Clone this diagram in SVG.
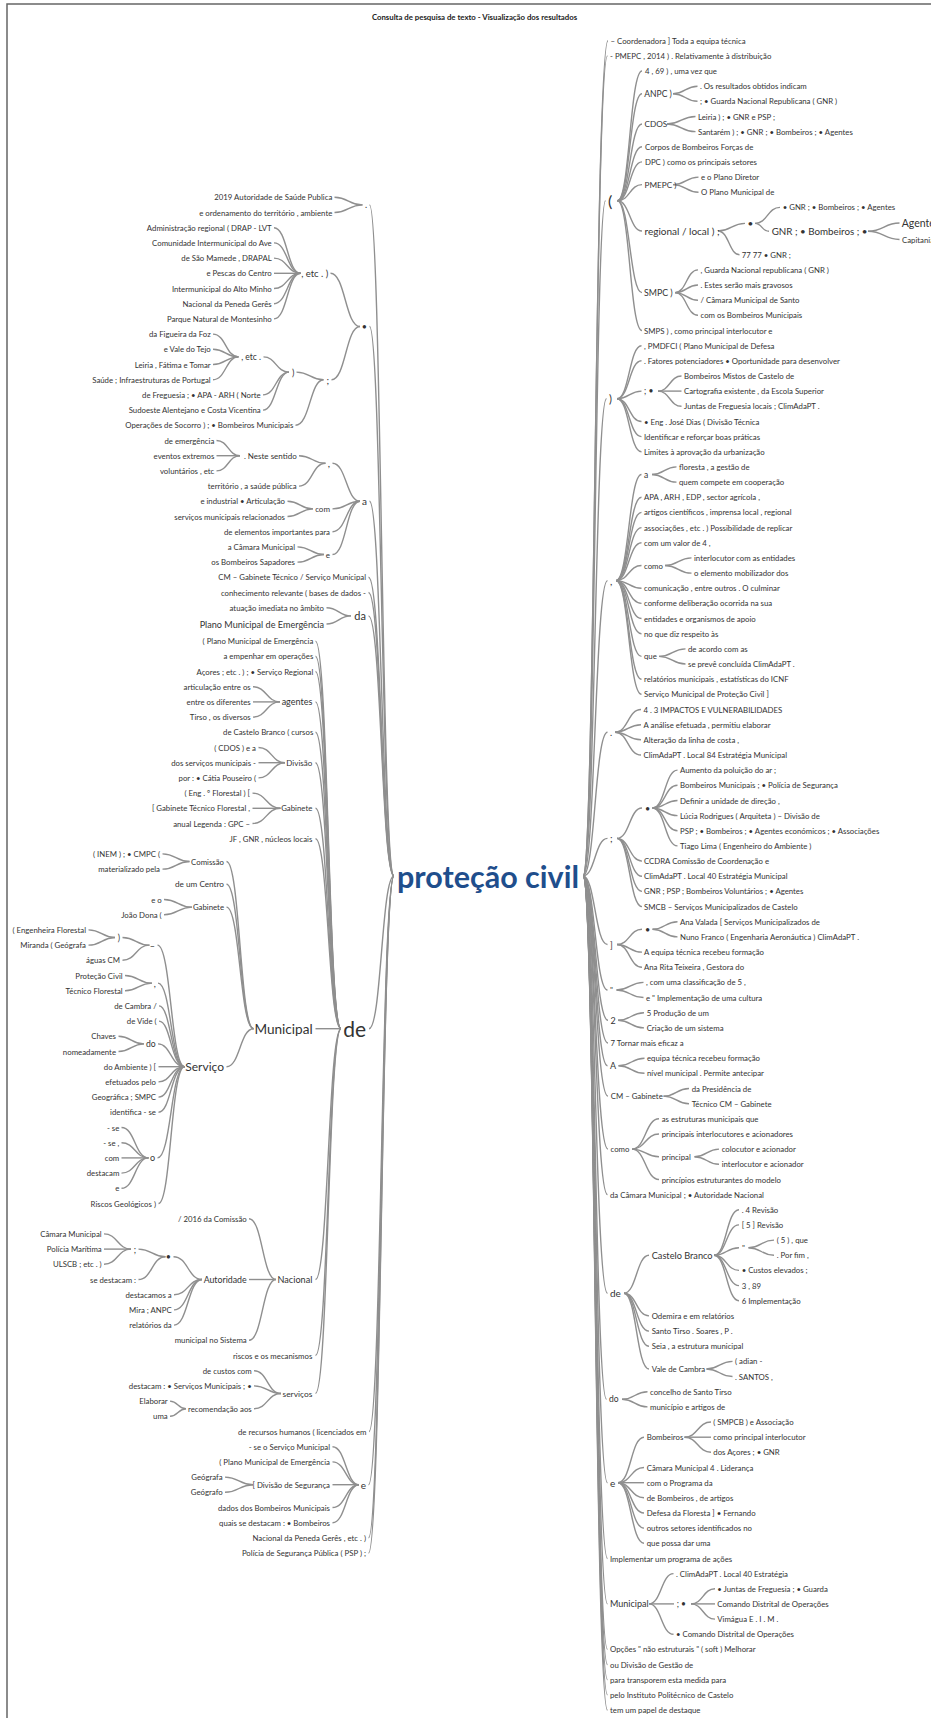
<svg xmlns="http://www.w3.org/2000/svg" width="931" height="1718" viewBox="0 0 931 1718">
<style>
text{font-family:Lato,"Liberation Sans",sans-serif;fill:#333;dominant-baseline:central}
.s{font-size:7.8px}
.e{text-anchor:end}
.title{font-size:7.8px;font-weight:700;text-anchor:middle;fill:#222}
.root{font-size:30.5px;font-weight:700;fill:#1f4e8c;text-anchor:middle}
#connectors path{fill:none;stroke:#8f8f8f;stroke-width:1.4}
</style>
<rect width="931" height="1718" fill="#fff"/>
<path d="M7 1718V4H931" fill="none" stroke="#666" stroke-width="1.5"/>
<text class="title" x="474.5" y="16.7">Consulta de pesquisa de texto - Visualização dos resultados</text>
<g id="connectors">
<path d="M369.5 204.9C381.5 204.9 381.5 876 394 876"/>
<path d="M369.5 326.5C381.5 326.5 381.5 876 394 876"/>
<path d="M369.5 501.3C381.5 501.3 381.5 876 394 876"/>
<path d="M368.5 577.3C381.5 577.3 381.5 876 394 876"/>
<path d="M368.5 592.5C381.5 592.5 381.5 876 394 876"/>
<path d="M368.5 615.9C381.5 615.9 381.5 876 394 876"/>
<path d="M369 1028.7C381.5 1028.7 381.5 876 394 876"/>
<path d="M369 1431.5C381.5 1431.5 381.5 876 394 876"/>
<path d="M368.5 1484.7C381.5 1484.7 381.5 876 394 876"/>
<path d="M368.5 1537.9C381.5 1537.9 381.5 876 394 876"/>
<path d="M368.5 1553.1C381.5 1553.1 381.5 876 394 876"/>
<path d="M583 876C595 876 595 40.7 608 40.7"/>
<path d="M583 876C595 876 595 55.9 607.5 55.9"/>
<path d="M583 876C595 876 595 200.8 605.5 200.8"/>
<path d="M583 876C595 876 595 398.7 606.5 398.7"/>
<path d="M583 876C595 876 595 580.6 607.5 580.6"/>
<path d="M583 876C595 876 595 732.2 607.5 732.2"/>
<path d="M583 876C595 876 595 838.4 607.5 838.4"/>
<path d="M583 876C595 876 595 944.5 607.5 944.5"/>
<path d="M583 876C595 876 595 990 607.5 990"/>
<path d="M583 876C595 876 595 1020.3 608 1020.3"/>
<path d="M583 876C595 876 595 1043 608 1043"/>
<path d="M583 876C595 876 595 1065.8 607.5 1065.8"/>
<path d="M583 876C595 876 595 1096.1 608 1096.1"/>
<path d="M583 876C595 876 595 1149.1 608 1149.1"/>
<path d="M583 876C595 876 595 1194.6 607.5 1194.6"/>
<path d="M583 876C595 876 595 1293.2 607.5 1293.2"/>
<path d="M583 876C595 876 595 1399.3 606.5 1399.3"/>
<path d="M583 876C595 876 595 1482.7 607.5 1482.7"/>
<path d="M583 876C595 876 595 1558.5 607.5 1558.5"/>
<path d="M583 876C595 876 595 1603.9 607.5 1603.9"/>
<path d="M583 876C595 876 595 1649.4 607.5 1649.4"/>
<path d="M583 876C595 876 595 1664.6 607.5 1664.6"/>
<path d="M583 876C595 876 595 1679.7 607.5 1679.7"/>
<path d="M583 876C595 876 595 1694.9 607.5 1694.9"/>
<path d="M583 876C595 876 595 1710.1 607.5 1710.1"/>
<path d="M334.5 197.3C348.5 197.3 348.5 204.9 362.5 204.9"/>
<path d="M334.5 212.5C348.5 212.5 348.5 204.9 362.5 204.9"/>
<path d="M330.5 273.3C345.3 273.3 345.3 326.5 360 326.5"/>
<path d="M331.5 379.7C345.8 379.7 345.8 326.5 360 326.5"/>
<path d="M274 227.7C287.3 227.7 287.3 273.3 300.5 273.3"/>
<path d="M274 242.9C287.3 242.9 287.3 273.3 300.5 273.3"/>
<path d="M274 258.1C287.3 258.1 287.3 273.3 300.5 273.3"/>
<path d="M274 273.3C287.3 273.3 287.3 273.3 300.5 273.3"/>
<path d="M274 288.5C287.3 288.5 287.3 273.3 300.5 273.3"/>
<path d="M274 303.7C287.3 303.7 287.3 273.3 300.5 273.3"/>
<path d="M274 318.9C287.3 318.9 287.3 273.3 300.5 273.3"/>
<path d="M296.5 372.1C310 372.1 310 379.7 323.5 379.7"/>
<path d="M295.5 425.3C310 425.3 310 379.7 323.5 379.7"/>
<path d="M263.5 356.9C276 356.9 276 372.1 289 372.1"/>
<path d="M263 394.9C276 394.9 276 372.1 289 372.1"/>
<path d="M263 410.1C276 410.1 276 372.1 289 372.1"/>
<path d="M213 334.1C225.8 334.1 225.8 356.9 238.5 356.9"/>
<path d="M213 349.3C225.8 349.3 225.8 356.9 238.5 356.9"/>
<path d="M213 364.5C225.8 364.5 225.8 356.9 238.5 356.9"/>
<path d="M213 379.7C225.8 379.7 225.8 356.9 238.5 356.9"/>
<path d="M332.5 463.3C346.3 463.3 346.3 501.3 360 501.3"/>
<path d="M332.5 508.9C346.3 508.9 346.3 501.3 360 501.3"/>
<path d="M332.5 531.7C346.3 531.7 346.3 501.3 360 501.3"/>
<path d="M332.5 554.5C346.3 554.5 346.3 501.3 360 501.3"/>
<path d="M299 455.7C312.3 455.7 312.3 463.3 325.5 463.3"/>
<path d="M299 486.1C312.3 486.1 312.3 463.3 325.5 463.3"/>
<path d="M216.5 440.5C228.3 440.5 228.3 455.7 240 455.7"/>
<path d="M216.5 455.7C228.3 455.7 228.3 455.7 240 455.7"/>
<path d="M216.5 470.9C228.3 470.9 228.3 455.7 240 455.7"/>
<path d="M287.5 501.3C300.3 501.3 300.3 508.9 313 508.9"/>
<path d="M287.5 516.5C300.3 516.5 300.3 508.9 313 508.9"/>
<path d="M297.5 546.9C310.8 546.9 310.8 554.5 324 554.5"/>
<path d="M297.5 562.1C310.8 562.1 310.8 554.5 324 554.5"/>
<path d="M326.5 607.7C338.8 607.7 338.8 615.9 351 615.9"/>
<path d="M326.5 624C338.8 624 338.8 615.9 351 615.9"/>
<path d="M315.5 641.1C328.3 641.1 328.3 1028.7 341 1028.7"/>
<path d="M315.5 656.3C328.3 656.3 328.3 1028.7 341 1028.7"/>
<path d="M315.5 671.5C328.3 671.5 328.3 1028.7 341 1028.7"/>
<path d="M315.5 701.9C328.3 701.9 328.3 1028.7 341 1028.7"/>
<path d="M315.5 732.3C328.3 732.3 328.3 1028.7 341 1028.7"/>
<path d="M315.5 762.7C328.3 762.7 328.3 1028.7 341 1028.7"/>
<path d="M315.5 808.3C328.3 808.3 328.3 1028.7 341 1028.7"/>
<path d="M315.5 838.7C328.3 838.7 328.3 1028.7 341 1028.7"/>
<path d="M315.5 1028.7C328.3 1028.7 328.3 1028.7 341 1028.7"/>
<path d="M315.5 1279.5C328.3 1279.5 328.3 1028.7 341 1028.7"/>
<path d="M315.5 1355.5C328.3 1355.5 328.3 1028.7 341 1028.7"/>
<path d="M315.5 1393.5C328.3 1393.5 328.3 1028.7 341 1028.7"/>
<path d="M253 686.7C266.5 686.7 266.5 701.9 280 701.9"/>
<path d="M253 701.9C266.5 701.9 266.5 701.9 280 701.9"/>
<path d="M253 717.1C266.5 717.1 266.5 701.9 280 701.9"/>
<path d="M258.5 747.5C271.8 747.5 271.8 762.7 285 762.7"/>
<path d="M258.5 762.7C271.8 762.7 271.8 762.7 285 762.7"/>
<path d="M258.5 777.9C271.8 777.9 271.8 762.7 285 762.7"/>
<path d="M252.5 793.1C266.5 793.1 266.5 808.3 280.5 808.3"/>
<path d="M252.5 808.3C266.5 808.3 266.5 808.3 280.5 808.3"/>
<path d="M252.5 823.5C266.5 823.5 266.5 808.3 280.5 808.3"/>
<path d="M226.5 861.5C240 861.5 240 1028.7 253.5 1028.7"/>
<path d="M226.5 884.3C240 884.3 240 1028.7 253.5 1028.7"/>
<path d="M226.5 907.1C240 907.1 240 1028.7 253.5 1028.7"/>
<path d="M226.5 1066.7C240 1066.7 240 1028.7 253.5 1028.7"/>
<path d="M162.5 853.9C176 853.9 176 861.5 189.5 861.5"/>
<path d="M162.5 869.1C176 869.1 176 861.5 189.5 861.5"/>
<path d="M164 899.5C178 899.5 178 907.1 192 907.1"/>
<path d="M164 914.7C178 914.7 178 907.1 192 907.1"/>
<path d="M157.5 945.1C171 945.1 171 1066.7 184.5 1066.7"/>
<path d="M158 983.1C171 983.1 171 1066.7 184.5 1066.7"/>
<path d="M159 1005.9C171 1005.9 171 1066.7 184.5 1066.7"/>
<path d="M159 1021.1C171 1021.1 171 1066.7 184.5 1066.7"/>
<path d="M158 1043.9C171 1043.9 171 1066.7 184.5 1066.7"/>
<path d="M158.5 1066.7C171 1066.7 171 1066.7 184.5 1066.7"/>
<path d="M158.5 1081.9C171 1081.9 171 1066.7 184.5 1066.7"/>
<path d="M158.5 1097.1C171 1097.1 171 1066.7 184.5 1066.7"/>
<path d="M158.5 1112.3C171 1112.3 171 1066.7 184.5 1066.7"/>
<path d="M157.5 1157.9C171 1157.9 171 1066.7 184.5 1066.7"/>
<path d="M158.5 1203.5C171 1203.5 171 1066.7 184.5 1066.7"/>
<path d="M122.5 937.5C136 937.5 136 945.1 149.5 945.1"/>
<path d="M122.5 960.3C136 960.3 136 945.1 149.5 945.1"/>
<path d="M88.5 929.9C101.8 929.9 101.8 937.5 115 937.5"/>
<path d="M88.5 945.1C101.8 945.1 101.8 937.5 115 937.5"/>
<path d="M125 975.5C138.5 975.5 138.5 983.1 152 983.1"/>
<path d="M125 990.7C138.5 990.7 138.5 983.1 152 983.1"/>
<path d="M118.5 1036.3C131.3 1036.3 131.3 1043.9 144 1043.9"/>
<path d="M118.5 1051.5C131.3 1051.5 131.3 1043.9 144 1043.9"/>
<path d="M121.5 1127.5C135 1127.5 135 1157.9 148.5 1157.9"/>
<path d="M121.5 1142.7C135 1142.7 135 1157.9 148.5 1157.9"/>
<path d="M121.5 1157.9C135 1157.9 135 1157.9 148.5 1157.9"/>
<path d="M121.5 1173.1C135 1173.1 135 1157.9 148.5 1157.9"/>
<path d="M121.5 1188.3C135 1188.3 135 1157.9 148.5 1157.9"/>
<path d="M249 1218.7C262.5 1218.7 262.5 1279.5 276 1279.5"/>
<path d="M249 1279.5C262.5 1279.5 262.5 1279.5 276 1279.5"/>
<path d="M249 1340.3C262.5 1340.3 262.5 1279.5 276 1279.5"/>
<path d="M173.5 1256.7C188 1256.7 188 1279.5 202 1279.5"/>
<path d="M174 1294.7C188 1294.7 188 1279.5 202 1279.5"/>
<path d="M174 1309.9C188 1309.9 188 1279.5 202 1279.5"/>
<path d="M174 1325.1C188 1325.1 188 1279.5 202 1279.5"/>
<path d="M138.5 1249.1C152 1249.1 152 1256.7 165.5 1256.7"/>
<path d="M138.5 1279.5C152 1279.5 152 1256.7 165.5 1256.7"/>
<path d="M104 1233.9C117.5 1233.9 117.5 1249.1 131 1249.1"/>
<path d="M104 1249.1C117.5 1249.1 117.5 1249.1 131 1249.1"/>
<path d="M104 1264.3C117.5 1264.3 117.5 1249.1 131 1249.1"/>
<path d="M254 1370.7C267.5 1370.7 267.5 1393.5 281 1393.5"/>
<path d="M254 1385.9C267.5 1385.9 267.5 1393.5 281 1393.5"/>
<path d="M254 1408.7C267.5 1408.7 267.5 1393.5 281 1393.5"/>
<path d="M170 1401.1C178 1401.1 178 1408.7 186 1408.7"/>
<path d="M170 1416.3C178 1416.3 178 1408.7 186 1408.7"/>
<path d="M332.5 1446.7C345.8 1446.7 345.8 1484.7 359 1484.7"/>
<path d="M332.5 1461.9C345.8 1461.9 345.8 1484.7 359 1484.7"/>
<path d="M332.5 1484.7C345.8 1484.7 345.8 1484.7 359 1484.7"/>
<path d="M332.5 1507.5C345.8 1507.5 345.8 1484.7 359 1484.7"/>
<path d="M332.5 1522.7C345.8 1522.7 345.8 1484.7 359 1484.7"/>
<path d="M225 1477.1C239 1477.1 239 1484.7 253 1484.7"/>
<path d="M225 1492.3C239 1492.3 239 1484.7 253 1484.7"/>
<path d="M617.5 200.8C629.8 200.8 629.8 71 642 71"/>
<path d="M617.5 200.8C629.8 200.8 629.8 93.7 642 93.7"/>
<path d="M617.5 200.8C629.8 200.8 629.8 124 642 124"/>
<path d="M617.5 200.8C629.8 200.8 629.8 146.8 642 146.8"/>
<path d="M617.5 200.8C629.8 200.8 629.8 161.9 642 161.9"/>
<path d="M617.5 200.8C629.8 200.8 629.8 184.6 642 184.6"/>
<path d="M617.5 200.8C629.8 200.8 629.8 231 642 231"/>
<path d="M617.5 200.8C629.8 200.8 629.8 292.6 642 292.6"/>
<path d="M617.5 200.8C629.8 200.8 629.8 330.5 642 330.5"/>
<path d="M673 93.7C685.3 93.7 685.3 86.2 697.5 86.2"/>
<path d="M673 93.7C685.3 93.7 685.3 101.3 697.5 101.3"/>
<path d="M667 124C681.3 124 681.3 116.5 695.5 116.5"/>
<path d="M667 124C681.3 124 681.3 131.6 695.5 131.6"/>
<path d="M673 184.6C685.8 184.6 685.8 177.1 698.5 177.1"/>
<path d="M673 184.6C685.8 184.6 685.8 192.2 698.5 192.2"/>
<path d="M718 231C731.5 231 731.5 223.4 745 223.4"/>
<path d="M718 231C729 231 729 254.7 739.5 254.7"/>
<path d="M755 223.4C767.5 223.4 767.5 207.4 780 207.4"/>
<path d="M755 223.4C762 223.4 762 231.3 769 231.3"/>
<path d="M868 231.3C884 231.3 884 223 899.5 223"/>
<path d="M868 231.3C884 231.3 884 239.5 899.5 239.5"/>
<path d="M675 292.6C686.5 292.6 686.5 269.9 698 269.9"/>
<path d="M675 292.6C686.5 292.6 686.5 285 698 285"/>
<path d="M675 292.6C686.5 292.6 686.5 300.2 698 300.2"/>
<path d="M675 292.6C686.5 292.6 686.5 315.3 698 315.3"/>
<path d="M617 398.7C629.3 398.7 629.3 345.7 641.5 345.7"/>
<path d="M617 398.7C629.3 398.7 629.3 360.8 641.5 360.8"/>
<path d="M617 398.7C629.3 398.7 629.3 391.1 641.5 391.1"/>
<path d="M617 398.7C629.3 398.7 629.3 421.5 641.5 421.5"/>
<path d="M617 398.7C629.3 398.7 629.3 436.6 641.5 436.6"/>
<path d="M617 398.7C629.3 398.7 629.3 451.8 641.5 451.8"/>
<path d="M658 391.1C669.8 391.1 669.8 376 681.5 376"/>
<path d="M658 391.1C669.8 391.1 669.8 391.1 681.5 391.1"/>
<path d="M658 391.1C669.8 391.1 669.8 406.3 681.5 406.3"/>
<path d="M616 580.6C628.8 580.6 628.8 474.5 641.5 474.5"/>
<path d="M616 580.6C628.8 580.6 628.8 497.3 641.5 497.3"/>
<path d="M616 580.6C628.8 580.6 628.8 512.4 641.5 512.4"/>
<path d="M616 580.6C628.8 580.6 628.8 527.6 641.5 527.6"/>
<path d="M616 580.6C628.8 580.6 628.8 542.7 641.5 542.7"/>
<path d="M616 580.6C628.8 580.6 628.8 565.5 641.5 565.5"/>
<path d="M616 580.6C628.8 580.6 628.8 588.2 641.5 588.2"/>
<path d="M616 580.6C628.8 580.6 628.8 603.4 641.5 603.4"/>
<path d="M616 580.6C628.8 580.6 628.8 618.5 641.5 618.5"/>
<path d="M616 580.6C628.8 580.6 628.8 633.7 641.5 633.7"/>
<path d="M616 580.6C628.8 580.6 628.8 656.4 641.5 656.4"/>
<path d="M616 580.6C628.8 580.6 628.8 679.2 641.5 679.2"/>
<path d="M616 580.6C628.8 580.6 628.8 694.3 641.5 694.3"/>
<path d="M652 474.5C664.3 474.5 664.3 466.9 676.5 466.9"/>
<path d="M652 474.5C664.3 474.5 664.3 482.1 676.5 482.1"/>
<path d="M665 565.5C678.3 565.5 678.3 557.9 691.5 557.9"/>
<path d="M665 565.5C678.3 565.5 678.3 573.1 691.5 573.1"/>
<path d="M659 656.4C672.3 656.4 672.3 648.9 685.5 648.9"/>
<path d="M659 656.4C672.3 656.4 672.3 664 685.5 664"/>
<path d="M615 732.2C628 732.2 628 709.5 641 709.5"/>
<path d="M615 732.2C628 732.2 628 724.7 641 724.7"/>
<path d="M615 732.2C628 732.2 628 739.8 641 739.8"/>
<path d="M615 732.2C628 732.2 628 755 641 755"/>
<path d="M617 838.4C629.5 838.4 629.5 808 642 808"/>
<path d="M617 838.4C629.5 838.4 629.5 861.1 642 861.1"/>
<path d="M617 838.4C629.5 838.4 629.5 876.3 642 876.3"/>
<path d="M617 838.4C629.5 838.4 629.5 891.4 642 891.4"/>
<path d="M617 838.4C629.5 838.4 629.5 906.6 642 906.6"/>
<path d="M652.5 808C665 808 665 770.1 677.5 770.1"/>
<path d="M652.5 808C665 808 665 785.3 677.5 785.3"/>
<path d="M652.5 808C665 808 665 800.5 677.5 800.5"/>
<path d="M652.5 808C665 808 665 815.6 677.5 815.6"/>
<path d="M652.5 808C665 808 665 830.8 677.5 830.8"/>
<path d="M652.5 808C665 808 665 845.9 677.5 845.9"/>
<path d="M617 944.5C629.5 944.5 629.5 929.3 642 929.3"/>
<path d="M617 944.5C629.5 944.5 629.5 952.1 642 952.1"/>
<path d="M617 944.5C629.5 944.5 629.5 967.2 642 967.2"/>
<path d="M652.5 929.3C665 929.3 665 921.7 677.5 921.7"/>
<path d="M652.5 929.3C665 929.3 665 936.9 677.5 936.9"/>
<path d="M616.5 990C630 990 630 982.4 643.5 982.4"/>
<path d="M616.5 990C630 990 630 997.5 643.5 997.5"/>
<path d="M618 1020.3C631 1020.3 631 1012.7 644 1012.7"/>
<path d="M618 1020.3C631 1020.3 631 1027.9 644 1027.9"/>
<path d="M618.5 1065.8C631.5 1065.8 631.5 1058.2 644.5 1058.2"/>
<path d="M618.5 1065.8C631.5 1065.8 631.5 1073.3 644.5 1073.3"/>
<path d="M663.5 1096.1C676.3 1096.1 676.3 1088.5 689 1088.5"/>
<path d="M663.5 1096.1C676.3 1096.1 676.3 1103.7 689 1103.7"/>
<path d="M632 1149.1C645.5 1149.1 645.5 1118.8 659 1118.8"/>
<path d="M632 1149.1C645.5 1149.1 645.5 1134 659 1134"/>
<path d="M632 1149.1C645.5 1149.1 645.5 1156.7 659 1156.7"/>
<path d="M632 1149.1C645.5 1149.1 645.5 1179.5 659 1179.5"/>
<path d="M694.5 1156.7C706.8 1156.7 706.8 1149.1 719 1149.1"/>
<path d="M694.5 1156.7C706.8 1156.7 706.8 1164.3 719 1164.3"/>
<path d="M624 1293.2C636.5 1293.2 636.5 1255.3 649 1255.3"/>
<path d="M624 1293.2C636.5 1293.2 636.5 1315.9 649 1315.9"/>
<path d="M624 1293.2C636.5 1293.2 636.5 1331.1 649 1331.1"/>
<path d="M624 1293.2C636.5 1293.2 636.5 1346.2 649 1346.2"/>
<path d="M624 1293.2C636.5 1293.2 636.5 1369 649 1369"/>
<path d="M714 1255.3C726.5 1255.3 726.5 1209.8 739 1209.8"/>
<path d="M714 1255.3C726.5 1255.3 726.5 1224.9 739 1224.9"/>
<path d="M714 1255.3C726.5 1255.3 726.5 1247.7 739 1247.7"/>
<path d="M714 1255.3C726.5 1255.3 726.5 1270.4 739 1270.4"/>
<path d="M714 1255.3C726.5 1255.3 726.5 1285.6 739 1285.6"/>
<path d="M714 1255.3C726.5 1255.3 726.5 1300.7 739 1300.7"/>
<path d="M748.5 1247.7C761.3 1247.7 761.3 1240.1 774 1240.1"/>
<path d="M748.5 1247.7C761.3 1247.7 761.3 1255.3 774 1255.3"/>
<path d="M706.5 1369C719.5 1369 719.5 1361.4 732.5 1361.4"/>
<path d="M706.5 1369C719.5 1369 719.5 1376.5 732.5 1376.5"/>
<path d="M622 1399.3C634.8 1399.3 634.8 1391.7 647.5 1391.7"/>
<path d="M622 1399.3C634.8 1399.3 634.8 1406.9 647.5 1406.9"/>
<path d="M618 1482.7C631 1482.7 631 1437.2 644 1437.2"/>
<path d="M618 1482.7C631 1482.7 631 1467.5 644 1467.5"/>
<path d="M618 1482.7C631 1482.7 631 1482.7 644 1482.7"/>
<path d="M618 1482.7C631 1482.7 631 1497.8 644 1497.8"/>
<path d="M618 1482.7C631 1482.7 631 1513 644 1513"/>
<path d="M618 1482.7C631 1482.7 631 1528.1 644 1528.1"/>
<path d="M618 1482.7C631 1482.7 631 1543.3 644 1543.3"/>
<path d="M684.5 1437.2C697.8 1437.2 697.8 1422 711 1422"/>
<path d="M684.5 1437.2C697.8 1437.2 697.8 1437.2 711 1437.2"/>
<path d="M684.5 1437.2C697.8 1437.2 697.8 1452.3 711 1452.3"/>
<path d="M649 1603.9C661.3 1603.9 661.3 1573.6 673.5 1573.6"/>
<path d="M649 1603.9C661.3 1603.9 661.3 1603.9 674 1603.9"/>
<path d="M649 1603.9C661.3 1603.9 661.3 1634.3 673.5 1634.3"/>
<path d="M691 1603.9C703 1603.9 703 1588.8 715 1588.8"/>
<path d="M691 1603.9C703 1603.9 703 1603.9 715 1603.9"/>
<path d="M691 1603.9C703 1603.9 703 1619.1 715 1619.1"/>
</g>
<g id="root"><text class="root" x="488" y="876">proteção civil</text></g>
<g id="l-dot"><text class="e" x="367" y="204.9" style="font-size:9px">.</text></g>
<g id="l-bul"><text class="e" x="367" y="326.5" style="font-size:9px">•</text></g>
<g id="l-a"><text class="e" x="367" y="501.3" style="font-size:10px">a</text></g>
<g id="l-cm"><text class="s e" x="366" y="577.3">CM – Gabinete Técnico / Serviço Municipal</text></g>
<g id="l-con"><text class="s e" x="366" y="592.5">conhecimento relevante ( bases de dados -</text></g>
<g id="l-da"><text class="e" x="366" y="615.9" style="font-size:11px">da</text></g>
<g id="l-de"><text class="e" x="366" y="1028.7" style="font-size:21px">de</text></g>
<g id="l-rec"><text class="s e" x="366.5" y="1431.5">de recursos humanos ( licenciados em</text></g>
<g id="l-e"><text class="e" x="366" y="1484.7" style="font-size:10px">e</text></g>
<g id="l-npg"><text class="s e" x="366" y="1537.9">Nacional da Peneda Gerês , etc . )</text></g>
<g id="l-psp"><text class="s e" x="366" y="1553.1">Polícia de Segurança Pública ( PSP ) ;</text></g>
<g id="l-r1"><text class="s e" x="332.3" y="197.3">2019 Autoridade de Saúde Publica</text></g>
<g id="l-r2"><text class="s e" x="332.3" y="212.5">e ordenamento do território , ambiente</text></g>
<g id="l-etc1"><text class="e" x="328.3" y="273.3" style="font-size:9.5px">, etc . )</text></g>
<g id="l-r3"><text class="s e" x="271.7" y="227.7">Administração regional ( DRAP - LVT</text></g>
<g id="l-r4"><text class="s e" x="271.7" y="242.9">Comunidade Intermunicipal do Ave</text></g>
<g id="l-r5"><text class="s e" x="271.7" y="258.1">de São Mamede , DRAPAL</text></g>
<g id="l-r6"><text class="s e" x="271.7" y="273.3">e Pescas do Centro</text></g>
<g id="l-r7"><text class="s e" x="271.7" y="288.5">Intermunicipal do Alto Minho</text></g>
<g id="l-r8"><text class="s e" x="271.7" y="303.7">Nacional da Peneda Gerês</text></g>
<g id="l-r9"><text class="s e" x="271.7" y="318.9">Parque Natural de Montesinho</text></g>
<g id="l-semi"><text class="e" x="329" y="379.7" style="font-size:10px">;</text></g>
<g id="l-par"><text class="e" x="294.3" y="372.1" style="font-size:9px">)</text></g>
<g id="l-etc2"><text class="e" x="261" y="356.9" style="font-size:8.5px">, etc .</text></g>
<g id="l-r10"><text class="s e" x="210.7" y="334.1">da Figueira da Foz</text></g>
<g id="l-r11"><text class="s e" x="210.7" y="349.3">e Vale do Tejo</text></g>
<g id="l-r12"><text class="s e" x="210.7" y="364.5">Leiria , Fátima e Tomar</text></g>
<g id="l-r13"><text class="s e" x="210.7" y="379.7">Saúde ; Infraestruturas de Portugal</text></g>
<g id="l-r14"><text class="s e" x="260.7" y="394.9">de Freguesia ; • APA - ARH ( Norte</text></g>
<g id="l-r15"><text class="s e" x="260.7" y="410.1">Sudoeste Alentejano e Costa Vicentina</text></g>
<g id="l-r16"><text class="s e" x="293.3" y="425.3">Operações de Socorro ) ; • Bombeiros Municipais</text></g>
<g id="l-comma"><text class="e" x="330" y="463.3" style="font-size:10px">,</text></g>
<g id="l-neste"><text class="e" x="296.7" y="455.7" style="font-size:8px">. Neste sentido</text></g>
<g id="l-r17"><text class="s e" x="214.3" y="440.5">de emergência</text></g>
<g id="l-r18"><text class="s e" x="214.3" y="455.7">eventos extremos</text></g>
<g id="l-r19"><text class="s e" x="214.3" y="470.9">voluntários , etc</text></g>
<g id="l-r20"><text class="s e" x="296.7" y="486.1">território , a saúde pública</text></g>
<g id="l-com"><text class="e" x="330" y="508.9" style="font-size:8px">com</text></g>
<g id="l-r21"><text class="s e" x="285" y="501.3">e industrial • Articulação</text></g>
<g id="l-r22"><text class="s e" x="285" y="516.5">serviços municipais relacionados</text></g>
<g id="l-r23"><text class="s e" x="330" y="531.7">de elementos importantes para</text></g>
<g id="l-e2"><text class="e" x="330" y="554.5" style="font-size:8px">e</text></g>
<g id="l-r24"><text class="s e" x="295" y="546.9">a Câmara Municipal</text></g>
<g id="l-r25"><text class="s e" x="295" y="562.1">os Bombeiros Sapadores</text></g>
<g id="l-r28"><text class="s e" x="324" y="607.7">atuação imediata no âmbito</text></g>
<g id="l-r29"><text class="e" x="324" y="624" style="font-size:9.1px">Plano Municipal de Emergência</text></g>
<g id="l-r30"><text class="s e" x="313.3" y="641.1">( Plano Municipal de Emergência</text></g>
<g id="l-r31"><text class="s e" x="313.3" y="656.3">a empenhar em operações</text></g>
<g id="l-r32"><text class="s e" x="313.3" y="671.5">Açores ; etc . ) ; • Serviço Regional</text></g>
<g id="l-agentes"><text class="e" x="312.3" y="701.9" style="font-size:9px">agentes</text></g>
<g id="l-r33"><text class="s e" x="250.7" y="686.7">articulação entre os</text></g>
<g id="l-r34"><text class="s e" x="250.7" y="701.9">entre os diferentes</text></g>
<g id="l-r35"><text class="s e" x="250.7" y="717.1">Tirso , os diversos</text></g>
<g id="l-r36"><text class="s e" x="313.3" y="732.3">de Castelo Branco ( cursos</text></g>
<g id="l-divisao"><text class="e" x="312.3" y="762.7" style="font-size:8px">Divisão</text></g>
<g id="l-r37"><text class="s e" x="256" y="747.5">( CDOS ) e a</text></g>
<g id="l-r38"><text class="s e" x="256" y="762.7">dos serviços municipais -</text></g>
<g id="l-r39"><text class="s e" x="256" y="777.9">por : • Cátia Pouseiro (</text></g>
<g id="l-gab1"><text class="s e" x="312.3" y="808.3">Gabinete</text></g>
<g id="l-r40"><text class="s e" x="250" y="793.1">( Eng . º Florestal ) [</text></g>
<g id="l-r41"><text class="s e" x="250" y="808.3">[ Gabinete Técnico Florestal ,</text></g>
<g id="l-r42"><text class="s e" x="250" y="823.5">anual Legenda : GPC –</text></g>
<g id="l-r43"><text class="s e" x="312.3" y="838.7">JF , GNR , núcleos locais</text></g>
<g id="l-municipal"><text class="e" x="312.7" y="1028.7" style="font-size:13.6px">Municipal</text></g>
<g id="l-comissao"><text class="s e" x="224" y="861.5">Comissão</text></g>
<g id="l-r44"><text class="s e" x="160" y="853.9">( INEM ) ; • CMPC (</text></g>
<g id="l-r45"><text class="s e" x="160" y="869.1">materializado pela</text></g>
<g id="l-r46"><text class="e" x="224" y="884.3" style="font-size:8.2px">de um Centro</text></g>
<g id="l-gab2"><text class="s e" x="224" y="907.1">Gabinete</text></g>
<g id="l-r47"><text class="s e" x="161.7" y="899.5">e o</text></g>
<g id="l-r48"><text class="s e" x="161.7" y="914.7">João Dona (</text></g>
<g id="l-servico"><text class="e" x="224" y="1066.7" style="font-size:12px">Serviço</text></g>
<g id="l-dash"><text class="e" x="155" y="945.1" style="font-size:9px">–</text></g>
<g id="l-par2"><text class="e" x="120" y="937.5" style="font-size:8.5px">)</text></g>
<g id="l-r49"><text class="s e" x="86" y="929.9">( Engenheira Florestal</text></g>
<g id="l-r50"><text class="s e" x="86" y="945.1">Miranda ( Geógrafa</text></g>
<g id="l-r51"><text class="s e" x="120" y="960.3">águas CM</text></g>
<g id="l-comma2"><text class="e" x="155.7" y="983.1" style="font-size:9px">,</text></g>
<g id="l-r52"><text class="s e" x="122.7" y="975.5">Proteção Civil</text></g>
<g id="l-r53"><text class="s e" x="122.7" y="990.7">Técnico Florestal</text></g>
<g id="l-r54"><text class="s e" x="156.7" y="1005.9">de Cambra /</text></g>
<g id="l-r55"><text class="s e" x="156.7" y="1021.1">de Vide (</text></g>
<g id="l-do"><text class="e" x="155.7" y="1043.9" style="font-size:8.6px">do</text></g>
<g id="l-r56"><text class="s e" x="116" y="1036.3">Chaves</text></g>
<g id="l-r57"><text class="s e" x="116" y="1051.5">nomeadamente</text></g>
<g id="l-r58"><text class="s e" x="156" y="1066.7">do Ambiente ) [</text></g>
<g id="l-r59"><text class="s e" x="156" y="1081.9">efetuados pelo</text></g>
<g id="l-r60"><text class="s e" x="156" y="1097.1">Geográfica ; SMPC</text></g>
<g id="l-r61"><text class="s e" x="156" y="1112.3">identifica - se</text></g>
<g id="l-o"><text class="e" x="155" y="1157.9" style="font-size:9px">o</text></g>
<g id="l-r62"><text class="s e" x="119.3" y="1127.5">- se</text></g>
<g id="l-r63"><text class="s e" x="119.3" y="1142.7">- se ,</text></g>
<g id="l-r64"><text class="s e" x="119.3" y="1157.9">com</text></g>
<g id="l-r65"><text class="s e" x="119.3" y="1173.1">destacam</text></g>
<g id="l-r66"><text class="s e" x="119.3" y="1188.3">e</text></g>
<g id="l-r67"><text class="s e" x="156" y="1203.5">Riscos Geológicos )</text></g>
<g id="l-nacional"><text class="e" x="312.3" y="1279.5" style="font-size:9.1px">Nacional</text></g>
<g id="l-r68"><text class="s e" x="246.7" y="1218.7">/ 2016 da Comissão</text></g>
<g id="l-autoridade"><text class="e" x="246.7" y="1279.5" style="font-size:8.8px">Autoridade</text></g>
<g id="l-bul2"><text class="e" x="171" y="1256.7" style="font-size:9px">•</text></g>
<g id="l-semi2"><text class="e" x="136" y="1249.1" style="font-size:9px">;</text></g>
<g id="l-r69"><text class="s e" x="101.7" y="1233.9">Câmara Municipal</text></g>
<g id="l-r70"><text class="s e" x="101.7" y="1249.1">Polícia Marítima</text></g>
<g id="l-r71"><text class="s e" x="101.7" y="1264.3">ULSCB ; etc . )</text></g>
<g id="l-r72"><text class="s e" x="136" y="1279.5">se destacam :</text></g>
<g id="l-r73"><text class="s e" x="171.7" y="1294.7">destacamos a</text></g>
<g id="l-r74"><text class="s e" x="171.7" y="1309.9">Mira ; ANPC</text></g>
<g id="l-r75"><text class="s e" x="171.7" y="1325.1">relatórios da</text></g>
<g id="l-r76"><text class="s e" x="246.7" y="1340.3">municipal no Sistema</text></g>
<g id="l-r77"><text class="s e" x="312.3" y="1355.5">riscos e os mecanismos</text></g>
<g id="l-servicos"><text class="e" x="312.3" y="1393.5" style="font-size:8.4px">serviços</text></g>
<g id="l-r78"><text class="s e" x="251.7" y="1370.7">de custos com</text></g>
<g id="l-r79"><text class="s e" x="251.7" y="1385.9">destacam : • Serviços Municipais ; •</text></g>
<g id="l-recom"><text class="s e" x="251.7" y="1408.7">recomendação aos</text></g>
<g id="l-r80"><text class="s e" x="167.7" y="1401.1">Elaborar</text></g>
<g id="l-r81"><text class="s e" x="167.7" y="1416.3">uma</text></g>
<g id="l-r83"><text class="s e" x="330" y="1446.7">- se o Serviço Municipal</text></g>
<g id="l-r84"><text class="s e" x="330" y="1461.9">( Plano Municipal de Emergência</text></g>
<g id="l-divseg"><text class="s e" x="330" y="1484.7">[ Divisão de Segurança</text></g>
<g id="l-r85"><text class="s e" x="222.7" y="1477.1">Geógrafa</text></g>
<g id="l-r86"><text class="s e" x="222.7" y="1492.3">Geógrafo</text></g>
<g id="l-r87"><text class="s e" x="330" y="1507.5">dados dos Bombeiros Municipais</text></g>
<g id="l-r88"><text class="s e" x="330" y="1522.7">quais se destacam : • Bombeiros</text></g>
<g id="r-r1"><text class="s" x="610.5" y="40.7">– Coordenadora ] Toda a equipa técnica</text></g>
<g id="r-r2"><text class="s" x="610" y="55.9">- PMEPC , 2014 ) . Relativamente à distribuição</text></g>
<g id="r-lpar"><text x="608" y="200.8" style="font-size:16px">(</text></g>
<g id="r-r3"><text class="s" x="645" y="71">4 , 69 ) , uma vez que</text></g>
<g id="r-anpc"><text x="644.3" y="93.7" style="font-size:8.5px">ANPC )</text></g>
<g id="r-r4"><text class="s" x="700" y="86.2">. Os resultados obtidos indicam</text></g>
<g id="r-r5"><text class="s" x="700" y="101.3">; • Guarda Nacional Republicana ( GNR )</text></g>
<g id="r-cdos"><text x="644.5" y="124" style="font-size:8.2px">CDOS</text></g>
<g id="r-r6"><text class="s" x="698" y="116.5">Leiria ) ; • GNR e PSP ;</text></g>
<g id="r-r7"><text class="s" x="698" y="131.6">Santarém ) ; • GNR ; • Bombeiros ; • Agentes</text></g>
<g id="r-r8"><text class="s" x="645" y="146.8">Corpos de Bombeiros Forças de</text></g>
<g id="r-r9"><text class="s" x="645" y="161.9">DPC ) como os principais setores</text></g>
<g id="r-pmepc"><text x="644.5" y="184.6" style="font-size:8.2px">PMEPC )</text></g>
<g id="r-r10"><text class="s" x="701" y="177.1">e o Plano Diretor</text></g>
<g id="r-r11"><text class="s" x="701" y="192.2">O Plano Municipal de</text></g>
<g id="r-regional"><text x="644.5" y="231" style="font-size:10px">regional / local ) ;</text></g>
<g id="r-bul1"><text x="747.5" y="223.4" style="font-size:10px">•</text></g>
<g id="r-r12"><text class="s" x="782.7" y="207.4">• GNR ; • Bombeiros ; • Agentes</text></g>
<g id="r-gnr"><text x="771.7" y="231.3" style="font-size:9.8px">GNR ; • Bombeiros ; •</text></g>
<g id="r-agentes"><text x="901.7" y="223" style="font-size:10.5px">Agentes</text></g>
<g id="r-capitania"><text class="s" x="902" y="239.5">Capitania</text></g>
<g id="r-r14"><text class="s" x="741.7" y="254.7">77 77 • GNR ;</text></g>
<g id="r-smpc"><text x="644" y="292.6" style="font-size:8.8px">SMPC )</text></g>
<g id="r-r15"><text class="s" x="700.5" y="269.9">, Guarda Nacional republicana ( GNR )</text></g>
<g id="r-r16"><text class="s" x="700.5" y="285">. Estes serão mais gravosos</text></g>
<g id="r-r17"><text class="s" x="700.5" y="300.2">/ Câmara Municipal de Santo</text></g>
<g id="r-r18"><text class="s" x="700.5" y="315.3">com os Bombeiros Municipais</text></g>
<g id="r-r19"><text class="s" x="644" y="330.5">SMPS ) , como principal interlocutor e</text></g>
<g id="r-rpar"><text x="609" y="398.7" style="font-size:11px">)</text></g>
<g id="r-r20"><text class="s" x="644" y="345.7">, PMDFCI ( Plano Municipal de Defesa</text></g>
<g id="r-r21"><text class="s" x="644" y="360.8">. Fatores potenciadores • Oportunidade para desenvolver</text></g>
<g id="r-semibul"><text x="644" y="391.1" style="font-size:8.5px">; •</text></g>
<g id="r-r22"><text class="s" x="684" y="376">Bombeiros Mistos de Castelo de</text></g>
<g id="r-r23"><text class="s" x="684" y="391.1">Cartografia existente , da Escola Superior</text></g>
<g id="r-r24"><text class="s" x="684" y="406.3">Juntas de Freguesia locais ; ClimAdaPT .</text></g>
<g id="r-r25"><text class="s" x="644" y="421.5">• Eng . José Dias ( Divisão Técnica</text></g>
<g id="r-r26"><text class="s" x="644" y="436.6">Identificar e reforçar boas práticas</text></g>
<g id="r-r27"><text class="s" x="644" y="451.8">Limites à aprovação da urbanização</text></g>
<g id="r-comma"><text x="610" y="580.6" style="font-size:10px">,</text></g>
<g id="r-a"><text x="644" y="474.5" style="font-size:8.5px">a</text></g>
<g id="r-r28"><text class="s" x="679" y="466.9">floresta , a gestão de</text></g>
<g id="r-r29"><text class="s" x="679" y="482.1">quem compete em cooperação</text></g>
<g id="r-r30"><text class="s" x="644" y="497.3">APA , ARH , EDP , sector agrícola ,</text></g>
<g id="r-r31"><text class="s" x="644" y="512.4">artigos científicos , imprensa local , regional</text></g>
<g id="r-r32"><text class="s" x="644" y="527.6">associações , etc . ) Possibilidade de replicar</text></g>
<g id="r-r33"><text class="s" x="644" y="542.7">com um valor de 4 ,</text></g>
<g id="r-como1"><text class="s" x="644" y="565.5">como</text></g>
<g id="r-r34"><text class="s" x="694" y="557.9">interlocutor com as entidades</text></g>
<g id="r-r35"><text class="s" x="694" y="573.1">o elemento mobilizador dos</text></g>
<g id="r-r36"><text class="s" x="644" y="588.2">comunicação , entre outros . O culminar</text></g>
<g id="r-r37"><text class="s" x="644" y="603.4">conforme deliberação ocorrida na sua</text></g>
<g id="r-r38"><text class="s" x="644" y="618.5">entidades e organismos de apoio</text></g>
<g id="r-r39"><text class="s" x="644" y="633.7">no que diz respeito às</text></g>
<g id="r-que"><text class="s" x="644" y="656.4">que</text></g>
<g id="r-r40"><text class="s" x="688" y="648.9">de acordo com as</text></g>
<g id="r-r41"><text class="s" x="688" y="664">se prevê concluída ClimAdaPT .</text></g>
<g id="r-r42"><text class="s" x="644" y="679.2">relatórios municipais , estatísticas do ICNF</text></g>
<g id="r-r43"><text class="s" x="644" y="694.3">Serviço Municipal de Proteção Civil ]</text></g>
<g id="r-dot"><text x="610" y="732.2" style="font-size:9px">.</text></g>
<g id="r-r44"><text class="s" x="643.5" y="709.5">4 . 3 IMPACTOS E VULNERABILIDADES</text></g>
<g id="r-r45"><text class="s" x="643.5" y="724.7">A análise efetuada , permitiu elaborar</text></g>
<g id="r-r46"><text class="s" x="643.5" y="739.8">Alteração da linha de costa ,</text></g>
<g id="r-r47"><text class="s" x="643.5" y="755">ClimAdaPT . Local 84 Estratégia Municipal</text></g>
<g id="r-semi"><text x="610" y="838.4" style="font-size:10px">;</text></g>
<g id="r-bul2"><text x="645" y="808" style="font-size:9px">•</text></g>
<g id="r-r48"><text class="s" x="680" y="770.1">Aumento da poluição do ar ;</text></g>
<g id="r-r49"><text class="s" x="680" y="785.3">Bombeiros Municipais ; • Polícia de Segurança</text></g>
<g id="r-r50"><text class="s" x="680" y="800.5">Definir a unidade de direção ,</text></g>
<g id="r-r51"><text class="s" x="680" y="815.6">Lúcia Rodrigues ( Arquiteta ) – Divisão de</text></g>
<g id="r-r52"><text class="s" x="680" y="830.8">PSP ; • Bombeiros ; • Agentes económicos ; • Associações</text></g>
<g id="r-r53"><text class="s" x="680" y="845.9">Tiago Lima ( Engenheiro do Ambiente )</text></g>
<g id="r-r54"><text class="s" x="644" y="861.1">CCDRA Comissão de Coordenação e</text></g>
<g id="r-r55"><text class="s" x="644" y="876.3">ClimAdaPT . Local 40 Estratégia Municipal</text></g>
<g id="r-r56"><text class="s" x="644" y="891.4">GNR ; PSP ; Bombeiros Voluntários ; • Agentes</text></g>
<g id="r-r57"><text class="s" x="644" y="906.6">SMCB – Serviços Municipalizados de Castelo</text></g>
<g id="r-rbr"><text x="610" y="944.5" style="font-size:9px">]</text></g>
<g id="r-bul3"><text x="645" y="929.3" style="font-size:9px">•</text></g>
<g id="r-r58"><text class="s" x="680" y="921.7">Ana Valada [ Serviços Municipalizados de</text></g>
<g id="r-r59"><text class="s" x="680" y="936.9">Nuno Franco ( Engenharia Aeronáutica ) ClimAdaPT .</text></g>
<g id="r-r60"><text class="s" x="644" y="952.1">A equipa técnica recebeu formação</text></g>
<g id="r-r61"><text class="s" x="644" y="967.2">Ana Rita Teixeira , Gestora do</text></g>
<g id="r-quote"><text x="610" y="990" style="font-size:8px">"</text></g>
<g id="r-r62"><text class="s" x="646" y="982.4">, com uma classificação de 5 ,</text></g>
<g id="r-r63"><text class="s" x="646" y="997.5">e " Implementação de uma cultura</text></g>
<g id="r-two"><text x="610.5" y="1020.3" style="font-size:9px">2</text></g>
<g id="r-r64"><text class="s" x="646.7" y="1012.7">5 Produção de um</text></g>
<g id="r-r65"><text class="s" x="646.7" y="1027.9">Criação de um sistema</text></g>
<g id="r-r66"><text class="s" x="610.5" y="1043">7 Tornar mais eficaz a</text></g>
<g id="r-A"><text x="610" y="1065.8" style="font-size:9px">A</text></g>
<g id="r-r67"><text class="s" x="647" y="1058.2">equipa técnica recebeu formação</text></g>
<g id="r-r68"><text class="s" x="647" y="1073.3">nível municipal . Permite antecipar</text></g>
<g id="r-cmgab"><text class="s" x="610.7" y="1096.1">CM – Gabinete</text></g>
<g id="r-r69"><text class="s" x="691.7" y="1088.5">da Presidência de</text></g>
<g id="r-r70"><text class="s" x="691.7" y="1103.7">Técnico CM – Gabinete</text></g>
<g id="r-como2"><text class="s" x="610.5" y="1149.1">como</text></g>
<g id="r-r71"><text class="s" x="661.7" y="1118.8">as estruturas municipais que</text></g>
<g id="r-r72"><text class="s" x="661.7" y="1134">principais interlocutores e acionadores</text></g>
<g id="r-principal"><text class="s" x="661.7" y="1156.7">principal</text></g>
<g id="r-r73"><text class="s" x="721.7" y="1149.1">colocutor e acionador</text></g>
<g id="r-r74"><text class="s" x="721.7" y="1164.3">interlocutor e acionador</text></g>
<g id="r-r75"><text class="s" x="661.7" y="1179.5">princípios estruturantes do modelo</text></g>
<g id="r-r76"><text class="s" x="610" y="1194.6">da Câmara Municipal ; • Autoridade Nacional</text></g>
<g id="r-de"><text x="610" y="1293.2" style="font-size:10px">de</text></g>
<g id="r-castelo"><text x="651.7" y="1255.3" style="font-size:9.2px">Castelo Branco</text></g>
<g id="r-r77"><text class="s" x="741.7" y="1209.8">. 4 Revisão</text></g>
<g id="r-r78"><text class="s" x="741.7" y="1224.9">[ 5 ] Revisão</text></g>
<g id="r-quote2"><text x="742" y="1247.7" style="font-size:8px">"</text></g>
<g id="r-r79"><text class="s" x="776.7" y="1240.1">( 5 ) , que</text></g>
<g id="r-r80"><text class="s" x="776.7" y="1255.3">. Por fim ,</text></g>
<g id="r-r81"><text class="s" x="741.7" y="1270.4">• Custos elevados ;</text></g>
<g id="r-r82"><text class="s" x="741.7" y="1285.6">3 , 89</text></g>
<g id="r-r83"><text class="s" x="741.7" y="1300.7">6 Implementação</text></g>
<g id="r-r84"><text class="s" x="651.7" y="1315.9">Odemira e em relatórios</text></g>
<g id="r-r85"><text class="s" x="651.7" y="1331.1">Santo Tirso . Soares , P .</text></g>
<g id="r-r86"><text class="s" x="651.7" y="1346.2">Seia , a estrutura municipal</text></g>
<g id="r-vale"><text class="s" x="651.7" y="1369">Vale de Cambra</text></g>
<g id="r-r87"><text class="s" x="735" y="1361.4">( adian -</text></g>
<g id="r-r88"><text class="s" x="735" y="1376.5">. SANTOS ,</text></g>
<g id="r-do"><text x="609" y="1399.3" style="font-size:8.5px">do</text></g>
<g id="r-r89"><text class="s" x="650" y="1391.7">concelho de Santo Tirso</text></g>
<g id="r-r90"><text class="s" x="650" y="1406.9">município e artigos de</text></g>
<g id="r-e"><text x="610" y="1482.7" style="font-size:10px">e</text></g>
<g id="r-bombeiros"><text class="s" x="646.7" y="1437.2">Bombeiros</text></g>
<g id="r-r91"><text class="s" x="713.3" y="1422">( SMPCB ) e Associação</text></g>
<g id="r-r92"><text class="s" x="713.3" y="1437.2">como principal interlocutor</text></g>
<g id="r-r93"><text class="s" x="713.3" y="1452.3">dos Açores ; • GNR</text></g>
<g id="r-r94"><text class="s" x="646.7" y="1467.5">Câmara Municipal 4 . Liderança</text></g>
<g id="r-r95"><text class="s" x="646.7" y="1482.7">com o Programa da</text></g>
<g id="r-r96"><text class="s" x="646.7" y="1497.8">de Bombeiros , de artigos</text></g>
<g id="r-r97"><text class="s" x="646.7" y="1513">Defesa da Floresta ] • Fernando</text></g>
<g id="r-r98"><text class="s" x="646.7" y="1528.1">outros setores identificados no</text></g>
<g id="r-r99"><text class="s" x="646.7" y="1543.3">que possa dar uma</text></g>
<g id="r-r100"><text class="s" x="610" y="1558.5">Implementar um programa de ações</text></g>
<g id="r-municipal"><text x="610" y="1603.9" style="font-size:9px">Municipal</text></g>
<g id="r-r101"><text class="s" x="676" y="1573.6">. ClimAdaPT . Local 40 Estratégia</text></g>
<g id="r-semibul2"><text x="676.7" y="1603.9" style="font-size:8.5px">; •</text></g>
<g id="r-r102"><text class="s" x="717.3" y="1588.8">• Juntas de Freguesia ; • Guarda</text></g>
<g id="r-r103"><text class="s" x="717.3" y="1603.9">Comando Distrital de Operações</text></g>
<g id="r-r104"><text class="s" x="717.3" y="1619.1">Vimágua E . I . M .</text></g>
<g id="r-r105"><text class="s" x="676" y="1634.3">• Comando Distrital de Operações</text></g>
<g id="r-r106"><text class="s" x="610" y="1649.4">Opções " não estruturais " ( soft ) Melhorar</text></g>
<g id="r-r107"><text class="s" x="610" y="1664.6">ou Divisão de Gestão de</text></g>
<g id="r-r108"><text class="s" x="610" y="1679.7">para transporem esta medida para</text></g>
<g id="r-r109"><text class="s" x="610" y="1694.9">pelo Instituto Politécnico de Castelo</text></g>
<g id="r-r110"><text class="s" x="610" y="1710.1">tem um papel de destaque</text></g>
</svg>
